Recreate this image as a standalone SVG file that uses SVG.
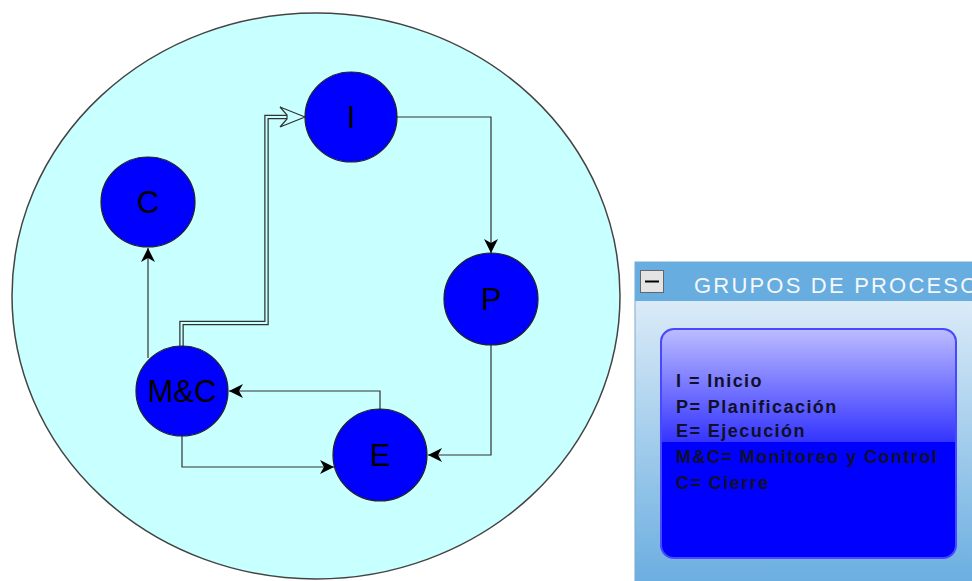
<svg xmlns="http://www.w3.org/2000/svg" width="972" height="581" viewBox="0 0 972 581">
<style>
.node{fill:#0000ff;stroke:#222;stroke-width:1.2}
.nlabel{font-family:"Liberation Sans",Arial,sans-serif;font-size:31px;fill:#000;text-anchor:middle}
.edge{fill:none;stroke:#333;stroke-width:1.2}
.leg{font-family:"Liberation Sans",Arial,sans-serif;font-size:18px;font-weight:bold;fill:#10102a;letter-spacing:1.45px}
</style>
<defs>
<marker id="arr" markerUnits="userSpaceOnUse" viewBox="0 0 14 14" refX="14" refY="7" markerWidth="14" markerHeight="14" orient="auto">
<path d="M0,0 L14,7 L0,14 L4,7 Z" fill="#000"/>
</marker>
<linearGradient id="panelG" x1="0" y1="0" x2="0" y2="1">
<stop offset="0" stop-color="#eaf3fb"/>
<stop offset="1" stop-color="#6aaee0"/>
</linearGradient>
<linearGradient id="innerG" x1="0" y1="329" x2="0" y2="442" gradientUnits="userSpaceOnUse">
<stop offset="0" stop-color="#bcbcff"/>
<stop offset="1" stop-color="#3434ff"/>
</linearGradient>
</defs>
<rect width="972" height="581" fill="#fff"/>
<ellipse id="boundary" cx="316" cy="296" rx="304" ry="283" fill="#c8ffff" stroke="#444" stroke-width="1.5"/>
<g id="connectors">
<path class="edge" d="M397,117 H491 V253" marker-end="url(#arr)"/>
<path class="edge" d="M491,345 V455 H428" marker-end="url(#arr)"/>
<path class="edge" d="M380,409 V391 H229" marker-end="url(#arr)"/>
<path class="edge" d="M182,436 V467 H334" marker-end="url(#arr)"/>
<path class="edge" d="M148,358 V248" marker-end="url(#arr)"/>
<path d="M181.5,347 V323 H266.5 V117 H288" fill="none" stroke="#333" stroke-width="4.5"/>
<path d="M181.5,348 V323 H266.5 V117 H289" fill="none" stroke="#c8ffff" stroke-width="2"/>
<polygon points="305,117 280,107 287,115 287,119 280,127" fill="#c8ffff" stroke="#333" stroke-width="1.2" stroke-linejoin="miter"/>
</g>
<g id="node-I"><ellipse class="node" cx="351" cy="117" rx="46" ry="45"/><text class="nlabel" x="351" y="128">I</text></g>
<g id="node-C"><ellipse class="node" cx="148" cy="202" rx="47" ry="45"/><text class="nlabel" x="148" y="213">C</text></g>
<g id="node-P"><ellipse class="node" cx="491" cy="299" rx="47" ry="46"/><text class="nlabel" x="491" y="310">P</text></g>
<g id="node-MC"><ellipse class="node" cx="182" cy="391" rx="46" ry="45"/><text class="nlabel" x="182" y="402">M&amp;C</text></g>
<g id="node-E"><ellipse class="node" cx="380" cy="455" rx="47" ry="46"/><text class="nlabel" x="380" y="466">E</text></g>
<g id="legend">
<rect x="635" y="262" width="340" height="322" fill="url(#panelG)" stroke="#7fa8c8" stroke-width="1"/>
<rect x="635" y="262" width="340" height="39" fill="#67ade0"/>
<rect x="640.5" y="270.5" width="23" height="22" fill="#e4e4e4" stroke="#666" stroke-width="1"/>
<line x1="645" y1="281.5" x2="659" y2="281.5" stroke="#000" stroke-width="2"/>
<text x="694" y="293" font-family="'Liberation Sans',Arial,sans-serif" font-size="22" fill="#f4f8fc" letter-spacing="2.2">GRUPOS DE PROCESO</text>
<rect x="661" y="329" width="295" height="229" rx="13" fill="#0000ff" stroke="#4848ff" stroke-width="2"/>
<path d="M674,330 H943 A12,12 0 0 1 955,342 V442 H662 V342 A12,12 0 0 1 674,330 Z" fill="url(#innerG)"/>
<text class="leg" x="676" y="387">I = Inicio</text>
<text class="leg" x="676" y="413">P= Planificación</text>
<text class="leg" x="676" y="437">E= Ejecución</text>
<text class="leg" x="676" y="463">M&amp;C= Monitoreo y Control</text>
<text class="leg" x="676" y="489">C= Cierre</text>
</g>
</svg>
